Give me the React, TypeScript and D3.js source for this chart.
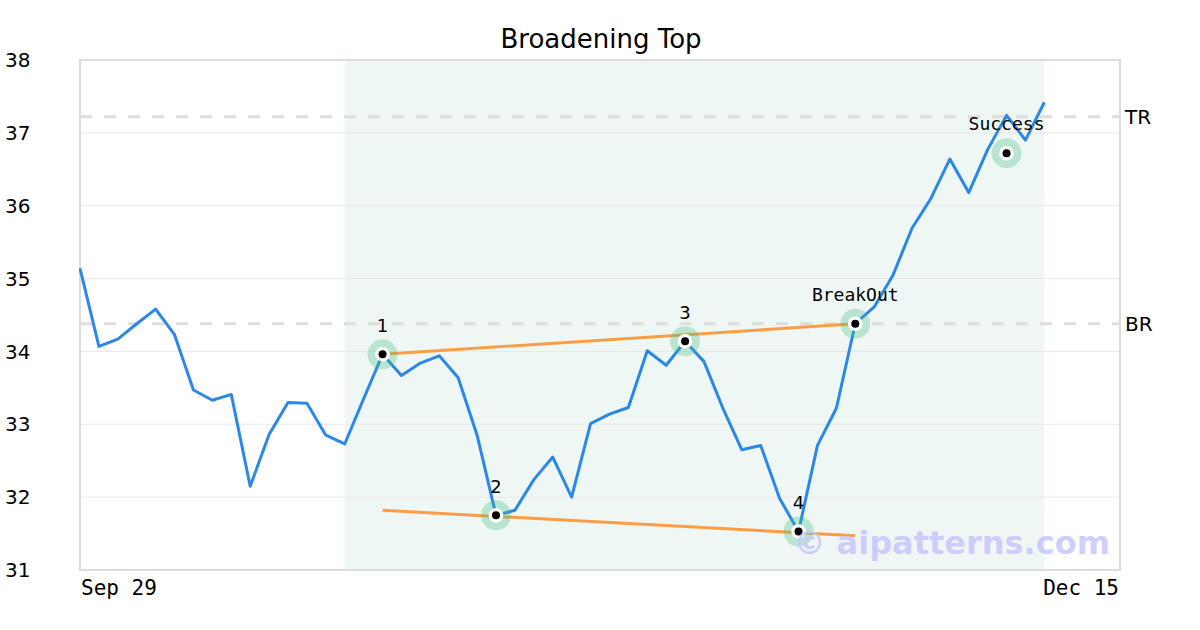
import React from "react";
import * as d3 from "d3";

const title = "Broadening Top";
const startDate = "2014-09-29";
const closes = [
  35.14, 34.07, 34.17, 34.38, 34.58, 34.23, 33.47, 33.33, 33.41, 32.15,
  32.86, 33.3, 33.29, 32.85, 32.73, 33.35, 33.96, 33.67, 33.84, 33.94,
  33.64, 32.85, 31.75, 31.82, 32.24, 32.55, 32.0, 33.01, 33.14, 33.23,
  34.01, 33.81, 34.14, 33.86, 33.22, 32.65, 32.71, 31.98, 31.53, 32.71,
  33.22, 34.38, 34.61, 35.05, 35.69, 36.1, 36.64, 36.18, 36.77, 37.24,
  36.9, 37.42,
];
const xDomainDays = 55;
const yTicks = [31, 32, 33, 34, 35, 36, 37, 38];
const xTickLabels = [
  { i: 0, label: "Sep 29", anchor: "start" },
  { i: 55, label: "Dec 15", anchor: "end" },
];
const pivotIdx = [16, 22, 32, 38];
const pivotLabels = ["1", "2", "3", "4"];
const breakoutIdx = 41;
const successIdx = 49;
const successValue = 36.72;
const shadeRange = [14, 51];
const upperLine = [
  { i: 16, v: 33.96 },
  { i: 41, v: 34.38 },
];
const lowerLine = [
  { i: 16, v: 31.82 },
  { i: 41, v: 31.47 },
];
const levels = [
  { name: "TR", v: 37.22 },
  { name: "BR", v: 34.38 },
];

export default function App() {
  const W = 1200,
    H = 630;
  const L = 80,
    R = 1120,
    T = 60,
    B = 570;
  const x = d3.scaleLinear().domain([0, xDomainDays]).range([L, R]);
  const y = d3.scaleLinear().domain([31, 38]).range([B, T]);
  const line = d3
    .line<number>()
    .x((_, i) => x(i))
    .y((d) => y(d));
  const seg = d3
    .line<{ i: number; v: number }>()
    .x((d) => x(d.i))
    .y((d) => y(d.v));

  const sans = "'DejaVu Sans', sans-serif";
  const mono = "'DejaVu Sans Mono', monospace";

  const marker = (cx: number, cy: number, key: string) => (
    <g key={key}>
      <circle cx={cx} cy={cy} r={15} fill="rgba(60,190,125,0.3)" />
      <circle cx={cx} cy={cy} r={7.3} fill="#ffffff" />
      <circle cx={cx} cy={cy} r={4} fill="#000000" />
    </g>
  );

  return (
    <svg
      width={W}
      height={H}
      style={{ position: "absolute", left: 0, top: 0, background: "#fff" }}
    >
      <rect x={0} y={0} width={W} height={H} fill="#fff" />
      <text
        x={601}
        y={48}
        textAnchor="middle"
        fontFamily={sans}
        fontSize={26}
        fill="#000"
      >
        {title}
      </text>
      <rect
        x={x(shadeRange[0])}
        y={T}
        width={x(shadeRange[1]) - x(shadeRange[0])}
        height={B - T}
        fill="#eff7f4"
      />
      {yTicks.map((t) => (
        <g key={t}>
          <line x1={L} x2={R} y1={y(t)} y2={y(t)} stroke="#e8e8e8" strokeWidth={1} />
          <text
            x={5}
            y={y(t)}
            dy="0.36em"
            fontFamily={sans}
            fontSize={20}
            fill="#000"
          >
            {t}
          </text>
        </g>
      ))}
      {levels.map((l) => (
        <g key={l.name}>
          <line
            x1={L}
            x2={R}
            y1={y(l.v)}
            y2={y(l.v)}
            stroke="#dddddd"
            strokeWidth={3}
            strokeDasharray="12,12"
          />
          <text
            x={1125}
            y={y(l.v)}
            dy="0.36em"
            fontFamily={sans}
            fontSize={20}
            fill="#000"
          >
            {l.name}
          </text>
        </g>
      ))}
      <rect
        x={L}
        y={T}
        width={R - L}
        height={B - T}
        fill="none"
        stroke="#dddddd"
        strokeWidth={2}
      />
      {xTickLabels.map((t) => (
        <text
          key={t.label}
          x={x(t.i) + (t.anchor === "start" ? 1 : -1)}
          y={595}
          textAnchor={t.anchor}
          fontFamily={mono}
          fontSize={21}
          fill="#000"
        >
          {t.label}
        </text>
      ))}
      <path d={seg(upperLine) || ""} fill="none" stroke="#fb9d45" strokeWidth={3} />
      <path d={seg(lowerLine) || ""} fill="none" stroke="#fb9d45" strokeWidth={3} />
      <path
        d={line(closes) || ""}
        fill="none"
        stroke="#2b87e8"
        strokeWidth={3}
        strokeLinejoin="round"
      />
      {pivotIdx.map((pi, k) => (
        <g key={"p" + k}>
          {marker(x(pi), y(closes[pi]), "m" + k)}
          <text
            x={x(pi)}
            y={y(closes[pi]) - 22}
            textAnchor="middle"
            fontFamily={sans}
            fontSize={18}
            fill="#000"
          >
            {pivotLabels[k]}
          </text>
        </g>
      ))}
      {marker(x(breakoutIdx), y(closes[breakoutIdx]), "bo")}
      <text
        x={x(breakoutIdx)}
        y={y(closes[breakoutIdx]) - 23}
        textAnchor="middle"
        fontFamily={mono}
        fontSize={18}
        fill="#000"
      >
        BreakOut
      </text>
      {marker(x(successIdx), y(successValue), "su")}
      <text
        x={x(successIdx)}
        y={y(successValue) - 23}
        textAnchor="middle"
        fontFamily={mono}
        fontSize={18}
        fill="#000"
      >
        Success
      </text>
      <text
        x={1110}
        y={554}
        textAnchor="end"
        fontFamily={sans}
        fontWeight="bold"
        fontSize={32}
        fill="#c8c8ff"
        fillOpacity={0.9}
      >
        © aipatterns.com
      </text>
    </svg>
  );
}
